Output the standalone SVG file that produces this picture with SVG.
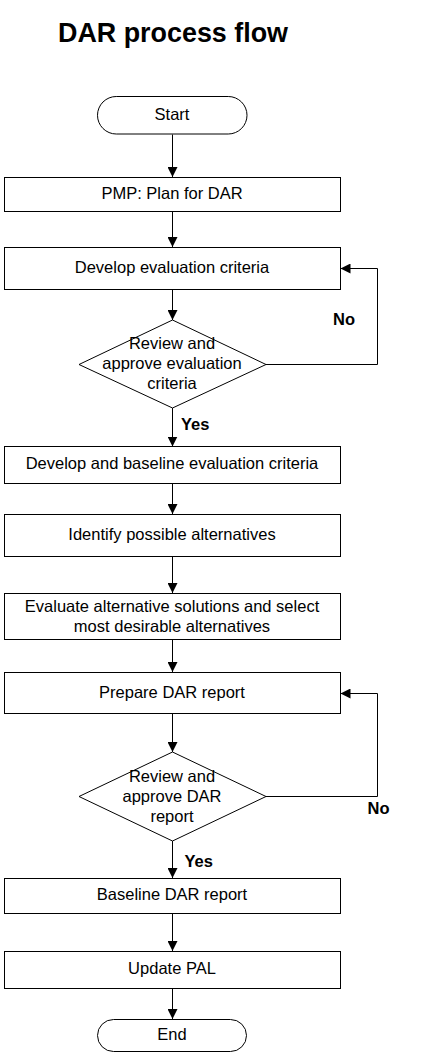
<svg xmlns="http://www.w3.org/2000/svg" width="424" height="1056" viewBox="0 0 424 1056">
<style>
  .shape { fill: #ffffff; stroke: #000000; stroke-width: 1; }
  .lbl { font-family: "Liberation Sans", Arial, sans-serif; font-size: 16.5px; fill: #000000; text-anchor: middle; }
  .bold { font-family: "Liberation Sans", Arial, sans-serif; font-size: 16.5px; font-weight: bold; fill: #000000; }
  .title { font-family: "Liberation Sans", Arial, sans-serif; font-size: 28px; font-weight: bold; fill: #000000; }
  .conn { fill: none; stroke: #000000; stroke-width: 1; marker-end: url(#arrow); }
</style>
<defs>
  <marker id="arrow" markerUnits="userSpaceOnUse" markerWidth="10" markerHeight="10" viewBox="0 0 10 10" refX="10" refY="5" orient="auto">
    <path d="M0,0 L10,5 L0,10 z" fill="#000000"/>
  </marker>
</defs>
<rect width="424" height="1056" fill="#ffffff"/>
<text class="title" x="58" y="41.5" textLength="230" lengthAdjust="spacingAndGlyphs">DAR process flow</text>

<g id="connectors">
  <path class="conn" d="M172.5,134.5 V177"/>
  <path class="conn" d="M172.5,211.5 V247"/>
  <path class="conn" d="M172.5,289.5 V320"/>
  <path class="conn" d="M266,364.5 H377.5 V268.5 H340.5"/>
  <path class="conn" d="M172.5,408 V446.5"/>
  <path class="conn" d="M172.5,483.5 V514"/>
  <path class="conn" d="M172.5,556.5 V593"/>
  <path class="conn" d="M172.5,639.5 V672"/>
  <path class="conn" d="M172.5,713.5 V752"/>
  <path class="conn" d="M266,796.5 H377.5 V693.5 H340.5"/>
  <path class="conn" d="M172.5,841 V878"/>
  <path class="conn" d="M172.5,913.5 V951"/>
  <path class="conn" d="M172.5,988.5 V1019"/>
  <text class="bold" x="333" y="325">No</text>
  <text class="bold" x="181" y="430">Yes</text>
  <text class="bold" x="367.5" y="814">No</text>
  <text class="bold" x="184.5" y="867">Yes</text>
</g>

<g id="start">
  <rect class="shape" x="97.5" y="96.5" width="149.5" height="37.5" rx="18.75" ry="18.75"/>
  <text class="lbl" x="172" y="120">Start</text>
</g>
<g id="plan">
  <rect class="shape" x="4.5" y="177.5" width="336" height="34"/>
  <text class="lbl" x="172" y="199">PMP: Plan for DAR</text>
</g>
<g id="develop-criteria">
  <rect class="shape" x="4.5" y="247.5" width="336" height="42"/>
  <text class="lbl" x="172" y="273">Develop evaluation criteria</text>
</g>
<g id="review-criteria">
  <polygon class="shape" points="172.5,320 266,364.5 172.5,408 79,364.5"/>
  <text class="lbl" x="172" y="349">Review and</text>
  <text class="lbl" x="172" y="369">approve evaluation</text>
  <text class="lbl" x="172" y="389">criteria</text>
</g>
<g id="baseline-criteria">
  <rect class="shape" x="4.5" y="446.5" width="336" height="37"/>
  <text class="lbl" x="172" y="469">Develop and baseline evaluation criteria</text>
</g>
<g id="identify">
  <rect class="shape" x="4.5" y="514.5" width="336" height="42"/>
  <text class="lbl" x="172" y="540">Identify possible alternatives</text>
</g>
<g id="evaluate">
  <rect class="shape" x="4.5" y="593.5" width="336" height="46"/>
  <text class="lbl" x="172" y="611.5">Evaluate alternative solutions and select</text>
  <text class="lbl" x="172" y="631.5">most desirable alternatives</text>
</g>
<g id="prepare">
  <rect class="shape" x="4.5" y="672.5" width="336" height="41"/>
  <text class="lbl" x="172" y="698">Prepare DAR report</text>
</g>
<g id="review-report">
  <polygon class="shape" points="172.5,752 266,796.5 172.5,841 79,796.5"/>
  <text class="lbl" x="172" y="781.5">Review and</text>
  <text class="lbl" x="172" y="801.5">approve DAR</text>
  <text class="lbl" x="172" y="821.5">report</text>
</g>
<g id="baseline-report">
  <rect class="shape" x="4.5" y="878.5" width="336" height="35"/>
  <text class="lbl" x="172" y="900">Baseline DAR report</text>
</g>
<g id="update-pal">
  <rect class="shape" x="4.5" y="951.5" width="336" height="37"/>
  <text class="lbl" x="172" y="974">Update PAL</text>
</g>
<g id="end">
  <rect class="shape" x="97.5" y="1019.5" width="149" height="32" rx="16" ry="16"/>
  <text class="lbl" x="172" y="1040">End</text>
</g>
</svg>
